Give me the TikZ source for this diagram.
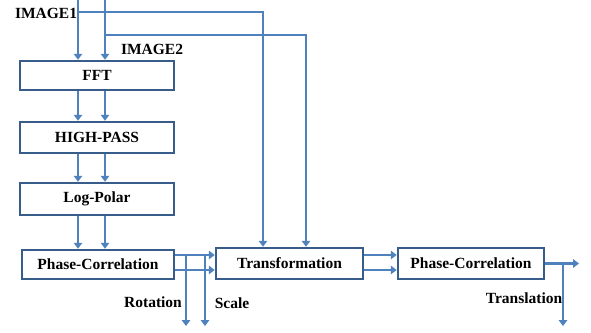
\documentclass[tikz,border=0pt]{standalone}
\usepackage{fontspec}
\setmainfont{Liberation Serif}
\usetikzlibrary{arrows.meta,calc}
\definecolor{lineblue}{RGB}{79,129,189}
\definecolor{boxblue}{RGB}{56,93,138}
\begin{document}
\begin{tikzpicture}[x=1pt,y=-1pt,
  blk/.style={draw=boxblue,line width=2.5pt,fill=white,minimum height=29pt,inner sep=0pt,
    font=\fontsize{15.5}{17}\selectfont\bfseries},
  arr/.style={draw=lineblue,line width=2.4pt,-{Triangle[length=6pt,width=8.5pt]}},
  lbl/.style={font=\fontsize{15.5}{17}\selectfont\bfseries,inner sep=0pt}]
\useasboundingbox (0,0) rectangle (591,332);
% boxes
\node[blk,minimum width=154pt,minimum height=29pt] (fft) at (97,75.5) {FFT};
\node[blk,minimum width=154pt,minimum height=31pt] (hp) at (97,137.5) {HIGH-PASS};
\node[blk,minimum width=154pt,minimum height=32pt] (lp) at (97,199) {Log-Polar};
\node[blk,minimum width=152pt,minimum height=29pt] (pc1) at (98,264.5) {Phase-Correlation};
\node[blk,minimum width=147pt,minimum height=31pt] (tr) at (289.5,263.5) {Transformation};
\node[blk,minimum width=146pt,minimum height=31pt] (pc2) at (471,263.5) {Phase-Correlation};
% labels
\node[lbl] (l1) at (46,13) {IMAGE1};
\node[lbl] (l2) at (152,49) {IMAGE2};
\node[lbl] (lrot) at (153,302) {Rotation};
\node[lbl] (lsc) at (232,303) {Scale};
\node[lbl] (ltr) at (524,298) {Translation};
% coordinates
\coordinate (i1) at (78,0);
\coordinate (i2) at (105,0);
\coordinate (t1) at (263,0);
\coordinate (t2) at (306,0);
\coordinate (rot) at (186,326);
\coordinate (sc) at (205,326);
\coordinate (trn) at (563,326);
\coordinate (out) at (579,0);
% inputs
\draw[arr] (i1) -- (i1 |- fft.north);
\draw[arr] (i2) -- (i2 |- fft.north);
\draw[arr] (i1 |- 0,12) -| (t1 |- tr.north);
\draw[arr] (i2 |- 0,35) -| (t2 |- tr.north);
% chain
\foreach \a/\b in {fft/hp,hp/lp,lp/pc1}{
  \draw[arr] (i1 |- \a.south) -- (i1 |- \b.north);
  \draw[arr] (i2 |- \a.south) -- (i2 |- \b.north);
}
% pc1 -> tr
\draw[arr] (pc1.east |- 0,255) -- (tr.west |- 0,255);
\draw[arr] (pc1.east |- 0,270) -- (tr.west |- 0,270);
\draw[arr] (rot |- 0,255) -- (rot);
\draw[arr] (sc |- 0,255) -- (sc);
% tr -> pc2
\draw[arr] (tr.east |- 0,255) -- (pc2.west |- 0,255);
\draw[arr] (tr.east |- 0,270) -- (pc2.west |- 0,270);
% output
\draw[arr] (pc2.east) -- (out |- pc2.east);
\draw[arr] (trn |- pc2.east) -- (trn);
\end{tikzpicture}
\end{document}
